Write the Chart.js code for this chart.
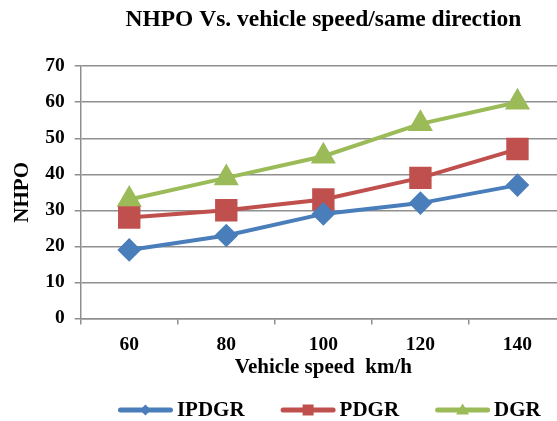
<!DOCTYPE html>
<html>
<head>
<meta charset="utf-8">
<script src="https://cdn.jsdelivr.net/npm/chart.js@4.4.1/dist/chart.umd.min.js"></script>
<style>
  html, body { margin: 0; padding: 0; background: #fff; overflow: hidden; }
  #wrap { width: 600px; height: 421px; }
  #c { width: 600px; height: 421px; display: block; }
</style>
</head>
<body>
<div id="wrap"><canvas id="c" width="600" height="421"></canvas></div>
<script>
// Vehicle speed categories (km/h)
const speeds = ['60', '80', '100', '120', '140'];
// NHPO per scheme
const ipdgr = [19, 23, 29, 32, 37];
const pdgr  = [28, 30, 33, 39, 47];
const dgr   = [33, 39, 45, 54, 60];
const yTicks = [0, 10, 20, 30, 40, 50, 60, 70];

const FONT = "'Liberation Serif', 'Times New Roman', serif";
const BLUE = '#4a7ebb', RED = '#c0504d', GREEN = '#9bbb59';
const GRID = '#8f8f8f';

// Bottom legend: thick line sample with a small marker, then the series name
const lineLegend = {
  id: 'lineLegend',
  afterDraw(chart) {
    const ctx = chart.ctx;
    const shapes = ['diamond', 'square', 'triangle'];
    const lineLen = 55, textGap = 4, spacing = 36;
    ctx.save();
    ctx.font = `bold 21px ${FONT}`;
    ctx.textBaseline = 'middle';
    const sets = chart.data.datasets;
    const widths = sets.map(d => lineLen + textGap + ctx.measureText(d.label).width);
    const total = widths.reduce((a, b) => a + b, 0) + spacing * (sets.length - 1);
    const area = chart.chartArea;
    let x = (area.left + area.right) / 2 + 6 - total / 2;
    const y = chart.height - 11;
    sets.forEach((d, i) => {
      const c = d.borderColor;
      ctx.strokeStyle = c; ctx.fillStyle = c;
      ctx.lineWidth = 5; ctx.lineCap = 'round';
      ctx.beginPath(); ctx.moveTo(x + 2.5, y); ctx.lineTo(x + lineLen - 2.5, y); ctx.stroke();
      const cx = x + lineLen / 2;
      ctx.beginPath();
      if (shapes[i] === 'diamond') {
        ctx.moveTo(cx, y - 5.5); ctx.lineTo(cx + 5.5, y); ctx.lineTo(cx, y + 5.5); ctx.lineTo(cx - 5.5, y);
      } else if (shapes[i] === 'square') {
        ctx.rect(cx - 5.5, y - 5.5, 11, 11);
      } else {
        ctx.moveTo(cx, y - 6.5); ctx.lineTo(cx + 6.5, y + 4.5); ctx.lineTo(cx - 6.5, y + 4.5);
      }
      ctx.closePath(); ctx.fill();
      ctx.fillStyle = '#000';
      ctx.textAlign = 'left';
      ctx.fillText(d.label, x + lineLen + textGap, y + 1);
      x += widths[i] + spacing;
    });
    ctx.restore();
  }
};

new Chart(document.getElementById('c'), {
  type: 'line',
  data: {
    labels: speeds,
    datasets: [
      { label: 'IPDGR', data: ipdgr, borderColor: BLUE, backgroundColor: BLUE,
        borderWidth: 4, pointStyle: 'rectRot', pointRadius: 9, pointHoverRadius: 9 },
      { label: 'PDGR', data: pdgr, borderColor: RED, backgroundColor: RED,
        borderWidth: 4, pointStyle: 'rect', pointRadius: 13, pointHoverRadius: 13 },
      { label: 'DGR', data: dgr, borderColor: GREEN, backgroundColor: GREEN,
        borderWidth: 4, pointStyle: 'triangle', pointRadius: 10.5, pointHoverRadius: 10.5 }
    ]
  },
  plugins: [lineLegend],
  options: {
    responsive: false,
    animation: false,
    layout: { padding: { left: 8, right: 34, top: 0, bottom: 41 } },
    plugins: {
      tooltip: { enabled: false },
      legend: { display: false },
      title: {
        display: true,
        fullSize: false,
        text: 'NHPO Vs. vehicle speed/same direction',
        color: '#000',
        font: { family: FONT, size: 23.5, weight: 'bold' },
        padding: { top: 6, bottom: 32 }
      }
    },
    scales: {
      x: {
        offset: true,
        grid: { offset: true, drawOnChartArea: false, drawTicks: true, tickLength: 6,
                color: GRID, lineWidth: 1.5 },
        border: { color: GRID, width: 1.5 },
        ticks: { color: '#000', padding: 9, font: { family: FONT, size: 19.5, weight: 'bold' } },
        title: {
          display: true, text: 'Vehicle speed  km/h', color: '#000',
          font: { family: FONT, size: 21, weight: 'bold' },
          padding: { top: -11, bottom: 0 }
        }
      },
      y: {
        min: 0, max: 70,
        afterBuildTicks(axis) { axis.ticks = yTicks.map(v => ({ value: v })); },
        grid: { color: GRID, lineWidth: 1.5, tickLength: 6 },
        border: { color: GRID, width: 1.5 },
        ticks: { color: '#000', padding: 10, font: { family: FONT, size: 19.5, weight: 'bold' } },
        title: {
          display: true, text: 'NHPO', color: '#000',
          font: { family: FONT, size: 21, weight: 'bold' },
          padding: { top: 2, bottom: 0 }
        }
      }
    }
  }
});
</script>
</body>
</html>
